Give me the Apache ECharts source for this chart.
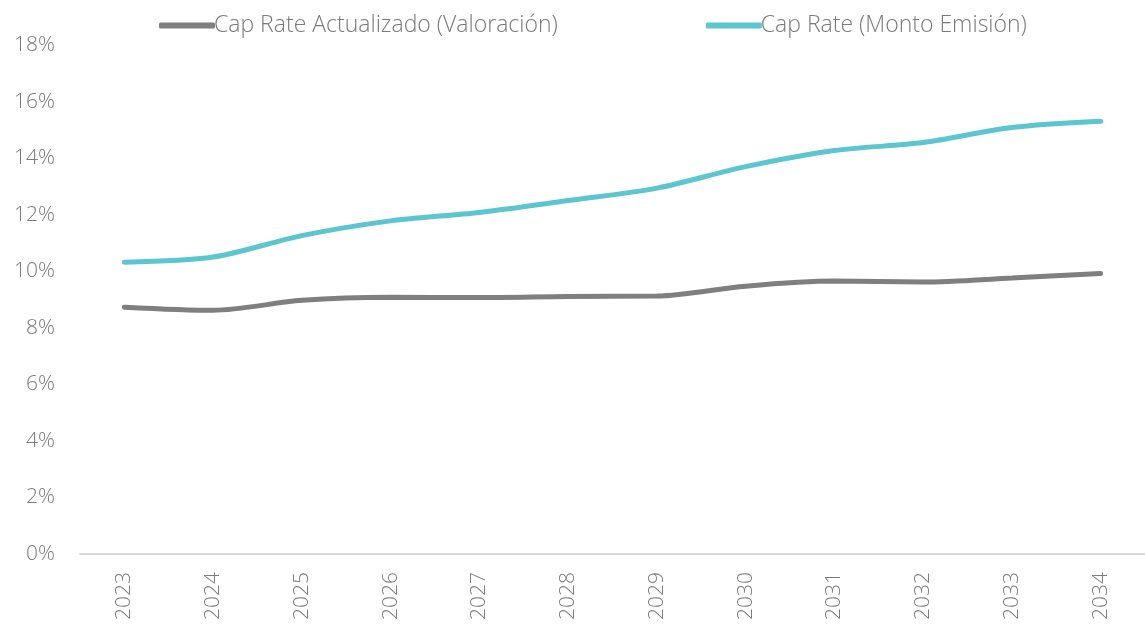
<html lang="es">
<head>
    <meta charset="UTF-8">
    <title>Cap Rate</title>
    <script src="https://cdn.jsdelivr.net/npm/echarts@6/dist/echarts.min.js"></script>
    <style>
        html, body { margin: 0; padding: 0; background: #fff; }
        #main { width: 1145px; height: 626px; }
    </style>
</head>
<body>
    <div id="main"></div>
    <script type="text/javascript">
        // años
        var years = ['2023', '2024', '2025', '2026', '2027', '2028', '2029', '2030', '2031', '2032', '2033', '2034'];
        // Cap Rate Actualizado (Valoración), en %
        var capActualizado = [8.73, 8.62, 8.97, 9.08, 9.07, 9.11, 9.12, 9.47, 9.65, 9.62, 9.76, 9.92];
        // Cap Rate (Monto Emisión), en %
        var capEmision = [10.32, 10.5, 11.26, 11.78, 12.08, 12.5, 12.94, 13.7, 14.27, 14.55, 15.08, 15.3];

        var txtColor = '#7a7a7a';
        var fontFam = '"Open Sans", "Noto Sans", sans-serif';

        var chart = echarts.init(document.getElementById('main'));
        var option = {
            animation: false,
            legend: {
                left: 154,
                top: 9,
                icon: 'roundRect',
                itemWidth: 56,
                itemHeight: 6,
                itemGap: 148,
                textStyle: {
                    color: txtColor,
                    fontSize: 23,
                    fontFamily: fontFam,
                    fontWeight: 300,
                    padding: [0, 0, 0, -6]
                },
                data: ['Cap Rate Actualizado (Valoración)', 'Cap Rate (Monto Emisión)']
            },
            grid: {
                left: 80,
                top: 45,
                width: 1077,
                bottom: 72,
                containLabel: false
            },
            xAxis: {
                type: 'category',
                data: years,
                boundaryGap: true,
                axisTick: { show: false },
                axisLine: { lineStyle: { color: '#d9d9d9', width: 2 } },
                axisLabel: {
                    rotate: 90,
                    margin: 18,
                    color: txtColor,
                    fontSize: 21,
                    fontFamily: fontFam,
                    fontWeight: 300
                }
            },
            yAxis: {
                type: 'value',
                min: 0,
                max: 18,
                interval: 2,
                splitLine: { show: false },
                axisLine: { show: false },
                axisTick: { show: false },
                axisLabel: {
                    margin: 25,
                    formatter: '{value}%',
                    color: txtColor,
                    fontSize: 21,
                    fontFamily: fontFam,
                    fontWeight: 300
                }
            },
            series: [
                {
                    name: 'Cap Rate Actualizado (Valoración)',
                    type: 'line',
                    data: capActualizado,
                    smooth: 0.3,
                    showSymbol: false,
                    itemStyle: { color: '#7f7f7f' },
                    lineStyle: { color: '#7f7f7f', width: 5, cap: 'round' }
                },
                {
                    name: 'Cap Rate (Monto Emisión)',
                    type: 'line',
                    data: capEmision,
                    smooth: 0.3,
                    showSymbol: false,
                    itemStyle: { color: '#5bc5d0' },
                    lineStyle: { color: '#5bc5d0', width: 5, cap: 'round' }
                }
            ]
        };
        chart.setOption(option);
    </script>
</body>
</html>
